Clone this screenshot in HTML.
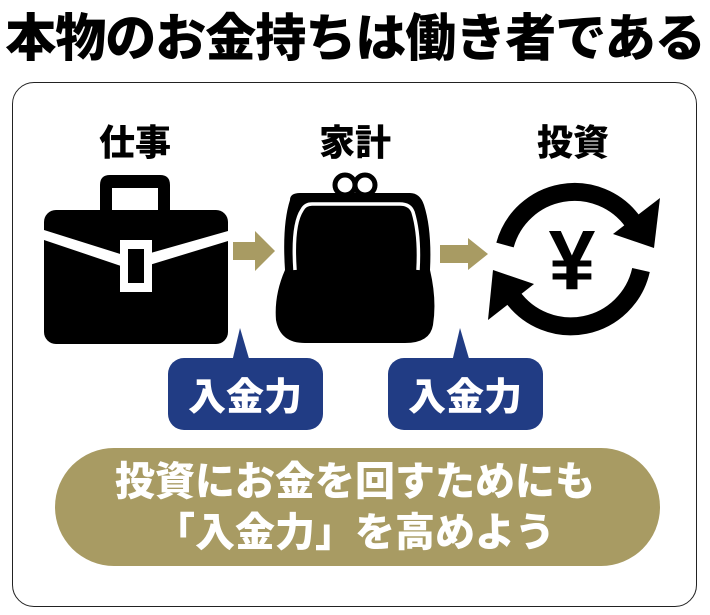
<!DOCTYPE html>
<html><head><meta charset="utf-8"><style>
html,body{margin:0;padding:0;background:#fff;}
body{width:710px;height:615px;position:relative;overflow:hidden;font-family:"Liberation Sans","Noto Sans CJK JP",sans-serif;}
.t{position:absolute;font-weight:900;white-space:nowrap;}
</style></head><body>
<div class="t" style="left:0;width:710px;text-align:center;top:4px;font-size:51px;line-height:70px;color:#000;letter-spacing:-1px;">本物のお金持ちは働き者である</div>
<div style="position:absolute;left:12px;top:82px;width:683px;height:523px;border:1.5px solid #222;border-radius:22px;"></div>
<div class="t" style="left:85px;width:100px;text-align:center;top:120px;font-size:36px;line-height:46px;">仕事</div>
<div class="t" style="left:305px;width:100px;text-align:center;top:120px;font-size:36px;line-height:46px;">家計</div>
<div class="t" style="left:523px;width:100px;text-align:center;top:120px;font-size:36px;line-height:46px;">投資</div>
<svg width="710" height="615" style="position:absolute;left:0;top:0">
 <path d="M100 210 V185 Q100 175 110 175 H160 Q170 175 170 185 V210 H158 V188 H112 V210 Z" fill="#000"/>
 <rect x="44" y="210" width="184" height="134" rx="12" fill="#000"/>
 <path d="M44 230 L133 258 L228 231 L228 241 L133 270 L44 240 Z" fill="#fff"/>
 <rect x="120" y="240" width="32" height="52" fill="#fff"/>
 <rect x="128" y="249" width="16" height="34" fill="#000"/>
 <path d="M233 242 H255 V231 L275 251 L255 271 V260 H233 Z" fill="#a89b63"/>
 <path d="M440 245 H468 V238 L488 254 L468 270 V263 H440 Z" fill="#a89b63"/>
 <circle cx="345" cy="185" r="10" fill="none" stroke="#000" stroke-width="5"/>
 <circle cx="365" cy="185" r="10" fill="none" stroke="#000" stroke-width="5"/>
 <path d="M290 200 Q290 193 300 193 H410 Q420 193 424 205 Q432 230 430 270 Q437 300 433 325 Q430 343 405 343 H305 Q280 343 276 320 Q274 295 285 270 Q282 225 290 200 Z" fill="#000"/>
 <path d="M295 270 Q292 225 302 210 Q305 204 312 204 H400 Q410 204 413 212 Q420 235 418 270" fill="none" stroke="#fff" stroke-width="3.5"/>
 <path d="M505 245 A72 72 0 0 1 633 222" fill="none" stroke="#000" stroke-width="18"/>
 <path d="M660 198 L654 248 L613 234 Z" fill="#000"/>
 <path d="M641 270 A72 72 0 0 1 512 296" fill="none" stroke="#000" stroke-width="18"/>
 <path d="M488 320 L493 270 L534 284 Z" fill="#000"/>
 <text x="572" y="289" font-family="Liberation Sans, sans-serif" font-weight="900" font-size="84" text-anchor="middle" fill="#000">¥</text>
 <path d="M232 362 L240 328 L250 362 Z" fill="#213c84"/>
 <rect x="168" y="358" width="155" height="72" rx="16" fill="#213c84"/>
 <path d="M452 362 L460 328 L470 362 Z" fill="#213c84"/>
 <rect x="388" y="358" width="155" height="72" rx="16" fill="#213c84"/>
 <text x="245" y="410" font-family="Liberation Sans, Noto Sans CJK JP, sans-serif" font-weight="900" font-size="38" text-anchor="middle" fill="#fff">入金力</text>
 <text x="465" y="410" font-family="Liberation Sans, Noto Sans CJK JP, sans-serif" font-weight="900" font-size="38" text-anchor="middle" fill="#fff">入金力</text>
 <rect x="55" y="448" width="605" height="118" rx="59" fill="#a89b63"/>
 <text x="355" y="495" font-family="Liberation Sans, Noto Sans CJK JP, sans-serif" font-weight="900" font-size="40" text-anchor="middle" fill="#fff">投資にお金を回すためにも</text>
 <text x="355" y="546" font-family="Liberation Sans, Noto Sans CJK JP, sans-serif" font-weight="900" font-size="40" text-anchor="middle" fill="#fff">「入金力」を高めよう</text>
</svg>
</body></html>
